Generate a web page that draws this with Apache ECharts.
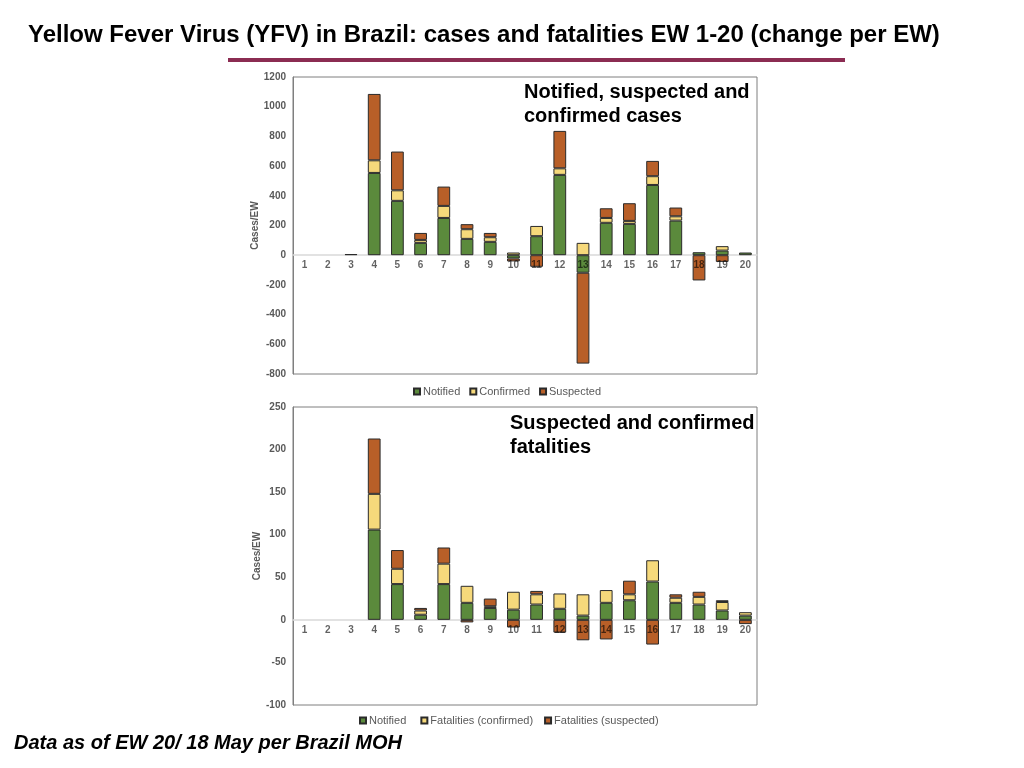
<!DOCTYPE html>
<html>
<head>
<meta charset="utf-8">
<script src="https://cdn.jsdelivr.net/npm/echarts@6/dist/echarts.min.js"></script>
<style>
html,body{margin:0;padding:0;background:#fff;}
#c{width:1024px;height:768px;}
</style>
</head>
<body>
<div id="c"></div>
<script>
var weeks = ['1','2','3','4','5','6','7','8','9','10','11','12','13','14','15','16','17','18','19','20'];
// Top chart: cases (change per EW)
var casesNotified  = [0,0,8,554,366,83,251,110,90,-22,128,541,-118,218,211,473,233,20,31,18];
var casesConfirmed = [0,0,0,85,71,20,81,65,31,18,69,44,83,33,20,59,29,0,30,0];
var casesSuspected = [0,0,0,447,261,47,130,34,29,-20,-78,252,-612,65,119,103,59,-170,-45,0];
// Bottom chart: fatalities (change per EW)
var fatNotified  = [0,0,0,106,42,6,42,20,14,12,18,13,5,20,23,45,20,18,11,5];
var fatConfirmed = [0,0,0,42,18,5,24,20,2,21,12,18,25,15,7,25,6,9,10,4];
var fatSuspected = [0,0,0,65,22,3,19,-3,9,-9,4,-15,-24,-23,16,-29,4,6,2,-5];
var topTicks = {min:-800, max:1200, interval:200};
var botTicks = {min:-100, max:250, interval:50};

var GREEN = '#5b8a3c', YELLOW = '#f6d97b', ORANGE = '#b85f28';
var chart = echarts.init(document.getElementById('c'));
var FONT = 'Liberation Sans, Arial, sans-serif';

// label axes (drawn above bars, semi-transparent like the reference)
function labelAxis(idx, margin){
  return {
    type:'category', gridIndex:idx, data:weeks, z:10,
    axisLine:{show:false, onZero:false},
    axisTick:{show:false},
    axisLabel:{color:'rgba(0,0,0,0.62)', fontSize:10, fontWeight:'bold', fontFamily:FONT, margin:margin}
  };
}
// zero-line axes (drawn below bars)
function lineAxis(idx){
  return {
    type:'category', gridIndex:idx, data:weeks, z:0,
    axisLine:{show:true, onZero:true, lineStyle:{color:'#d9d9d9', width:1.5}},
    axisTick:{show:false}, axisLabel:{show:false}
  };
}
function yAxis(idx, t){
  return {
    type:'value', gridIndex:idx, min:t.min, max:t.max, interval:t.interval,
    name:'Cases/EW', nameLocation:'middle', nameGap:30,
    nameTextStyle:{color:'#595959', fontSize:10, fontWeight:'bold', fontFamily:FONT},
    axisLine:{show:true, onZero:false, lineStyle:{color:'#7f7f7f'}},
    axisTick:{show:false},
    splitLine:{show:false},
    axisLabel:{color:'#595959', fontSize:10, fontWeight:'bold', fontFamily:FONT, margin:7,
      formatter:function(v){return String(v);}}
  };
}
function bar(name, data, color, stack, xi){
  return {
    type:'bar', name:name,
    data:data.map(function(v){return v === 0 ? '-' : v;}),
    stack:stack, xAxisIndex:xi, yAxisIndex:xi,
    barWidth:'55%',
    itemStyle:{color:color, borderColor:'#2a2a2a', borderWidth:1},
    emphasis:{disabled:true}
  };
}

var legendText = {color:'#595959', fontSize:11, fontFamily:FONT, padding:[0,0,0,-2]};
var option = {
  animation:false,
  textStyle:{fontFamily:FONT},
  grid:[
    {left:293, top:77, width:464, height:297, show:true, borderColor:'#7f7f7f', borderWidth:1, backgroundColor:'#fff'},
    {left:293, top:407, width:464, height:298, show:true, borderColor:'#7f7f7f', borderWidth:1, backgroundColor:'#fff'}
  ],
  xAxis:[labelAxis(0, -114), labelAxis(1, -80), lineAxis(0), lineAxis(1)],
  yAxis:[yAxis(0, topTicks), yAxis(1, botTicks)],
  legend:[
    {data:['Notified','Confirmed','Suspected'], left:413, top:386, padding:0, itemWidth:6, itemHeight:6, itemGap:9,
     icon:'rect', textStyle:legendText},
    {data:['Notified ','Fatalities (confirmed)','Fatalities (suspected)'], left:359, top:715, padding:0, itemWidth:6, itemHeight:6, itemGap:11,
     icon:'rect', textStyle:legendText}
  ],
  series:[
    bar('Notified', casesNotified, GREEN, 'cases', 0),
    bar('Confirmed', casesConfirmed, YELLOW, 'cases', 0),
    bar('Suspected', casesSuspected, ORANGE, 'cases', 0),
    bar('Notified ', fatNotified, GREEN, 'fat', 1),
    bar('Fatalities (confirmed)', fatConfirmed, YELLOW, 'fat', 1),
    bar('Fatalities (suspected)', fatSuspected, ORANGE, 'fat', 1)
  ],
  graphic:[
    {type:'text', x:28, y:35, style:{text:'Yellow Fever Virus (YFV) in Brazil: cases and fatalities EW 1-20 (change per EW)',
      fill:'#000', font:'bold 24px '+FONT, verticalAlign:'middle'}},
    {type:'rect', shape:{x:228, y:58, width:617, height:4}, style:{fill:'#8b2c52'}},
    {type:'text', x:524, y:92, style:{text:'Notified, suspected and', fill:'#000', font:'bold 20px '+FONT, verticalAlign:'middle'}},
    {type:'text', x:524, y:116, style:{text:'confirmed cases', fill:'#000', font:'bold 20px '+FONT, verticalAlign:'middle'}},
    {type:'text', x:510, y:423, style:{text:'Suspected and confirmed', fill:'#000', font:'bold 20px '+FONT, verticalAlign:'middle'}},
    {type:'text', x:510, y:447, style:{text:'fatalities', fill:'#000', font:'bold 20px '+FONT, verticalAlign:'middle'}},
    {type:'text', x:14, y:743, style:{text:'Data as of EW 20/ 18 May per Brazil MOH', fill:'#000', font:'italic bold 20px '+FONT, verticalAlign:'middle'}}
  ]
};
chart.setOption(option);
</script>
</body>
</html>
